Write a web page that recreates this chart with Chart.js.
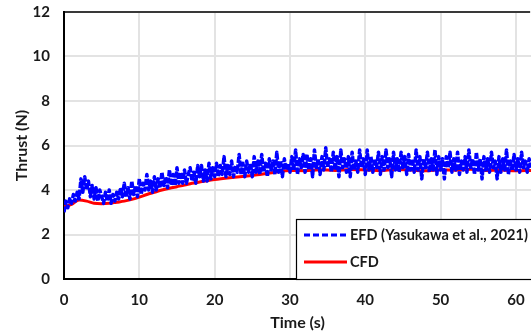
<!DOCTYPE html>
<html>
<head>
<meta charset="utf-8">
<title>Thrust</title>
<script src="https://cdn.jsdelivr.net/npm/chart.js"></script>
<style>
  body { margin: 0; background: #fff; }
  canvas { display: block; }
</style>
</head>
<body>
<canvas id="chart" width="531" height="336"></canvas>
<script>
// measured thrust, sampled every 0.25 s (one row = 2 s)
var efdTime = [
  0, 0.25, 0.5, 0.75, 1, 1.25, 1.5, 1.75,
  2, 2.25, 2.5, 2.75, 3, 3.25, 3.5, 3.75,
  4, 4.25, 4.5, 4.75, 5, 5.25, 5.5, 5.75,
  6, 6.25, 6.5, 6.75, 7, 7.25, 7.5, 7.75,
  8, 8.25, 8.5, 8.75, 9, 9.25, 9.5, 9.75,
  10, 10.25, 10.5, 10.75, 11, 11.25, 11.5, 11.75,
  12, 12.25, 12.5, 12.75, 13, 13.25, 13.5, 13.75,
  14, 14.25, 14.5, 14.75, 15, 15.25, 15.5, 15.75,
  16, 16.25, 16.5, 16.75, 17, 17.25, 17.5, 17.75,
  18, 18.25, 18.5, 18.75, 19, 19.25, 19.5, 19.75,
  20, 20.25, 20.5, 20.75, 21, 21.25, 21.5, 21.75,
  22, 22.25, 22.5, 22.75, 23, 23.25, 23.5, 23.75,
  24, 24.25, 24.5, 24.75, 25, 25.25, 25.5, 25.75,
  26, 26.25, 26.5, 26.75, 27, 27.25, 27.5, 27.75,
  28, 28.25, 28.5, 28.75, 29, 29.25, 29.5, 29.75,
  30, 30.25, 30.5, 30.75, 31, 31.25, 31.5, 31.75,
  32, 32.25, 32.5, 32.75, 33, 33.25, 33.5, 33.75,
  34, 34.25, 34.5, 34.75, 35, 35.25, 35.5, 35.75,
  36, 36.25, 36.5, 36.75, 37, 37.25, 37.5, 37.75,
  38, 38.25, 38.5, 38.75, 39, 39.25, 39.5, 39.75,
  40, 40.25, 40.5, 40.75, 41, 41.25, 41.5, 41.75,
  42, 42.25, 42.5, 42.75, 43, 43.25, 43.5, 43.75,
  44, 44.25, 44.5, 44.75, 45, 45.25, 45.5, 45.75,
  46, 46.25, 46.5, 46.75, 47, 47.25, 47.5, 47.75,
  48, 48.25, 48.5, 48.75, 49, 49.25, 49.5, 49.75,
  50, 50.25, 50.5, 50.75, 51, 51.25, 51.5, 51.75,
  52, 52.25, 52.5, 52.75, 53, 53.25, 53.5, 53.75,
  54, 54.25, 54.5, 54.75, 55, 55.25, 55.5, 55.75,
  56, 56.25, 56.5, 56.75, 57, 57.25, 57.5, 57.75,
  58, 58.25, 58.5, 58.75, 59, 59.25, 59.5, 59.75,
  60, 60.25, 60.5, 60.75, 61, 61.25, 61.5, 61.75,
  62
];
var efdThrust = [
  3.0, 3.5, 3.2, 3.6, 3.4, 3.8, 3.5, 3.9,
  3.6, 4.5, 3.9, 4.6, 4.0, 4.4, 3.7, 4.2,
  3.6, 4.1, 3.5, 4.0, 3.7, 3.4, 3.9, 3.5,
  4.0, 3.4, 3.8, 3.5, 3.9, 3.6, 4.1, 3.7,
  4.3, 3.7, 4.1, 3.6, 4.4, 3.8, 4.2, 3.7,
  4.5, 3.8, 4.3, 4.0, 4.7, 4.0, 4.4, 3.9,
  4.6, 4.0, 4.5, 4.1, 4.8, 4.2, 4.6, 4.1,
  4.9, 4.2, 4.7, 4.2, 5.0, 4.3, 4.8, 4.3,
  4.9, 4.3, 4.7, 5.0, 4.4, 4.8, 4.3, 5.1,
  4.6, 5.1, 4.4, 4.9, 4.4, 5.2, 4.5, 5.0,
  4.6, 5.2, 4.6, 5.1, 4.7, 5.5, 4.6, 5.1,
  4.7, 5.3, 4.6, 5.1, 4.8, 5.6, 4.7, 5.2,
  4.6, 5.3, 4.8, 5.2, 4.6, 5.5, 4.8, 5.3,
  4.7, 5.6, 4.8, 5.2, 4.6, 5.4, 4.9, 5.3,
  4.7, 5.7, 4.8, 5.3, 4.6, 5.4, 4.9, 5.2,
  4.8, 5.5, 4.9, 5.8, 4.7, 5.4, 5.0, 5.6,
  4.8, 5.6, 4.9, 5.4, 4.6, 5.8, 5.0, 5.4,
  4.7, 5.5, 4.9, 5.9, 5.0, 5.4, 4.8, 5.7,
  4.9, 5.5, 4.6, 5.8, 5.0, 5.4, 4.8, 5.5,
  4.6, 5.7, 4.9, 5.3, 4.8, 5.8, 5.0, 5.4,
  4.7, 5.8, 4.9, 5.5, 4.8, 5.4, 5.0, 5.7,
  4.7, 5.5, 4.9, 5.8, 5.0, 5.4, 4.6, 5.7,
  4.9, 5.4, 4.8, 5.7, 5.0, 5.5, 4.7, 5.6,
  4.9, 5.4, 4.8, 5.8, 4.9, 5.5, 4.5, 5.4,
  5.0, 5.7, 4.8, 5.4, 4.9, 5.8, 4.7, 5.5,
  4.9, 5.4, 4.5, 5.5, 5.0, 5.7, 4.8, 5.4,
  4.9, 5.7, 4.7, 5.3, 4.9, 5.5, 4.8, 5.8,
  5.0, 5.4, 4.7, 5.7, 4.9, 5.4, 4.5, 5.5,
  4.9, 5.4, 4.8, 5.7, 5.0, 5.3, 4.5, 5.5,
  4.8, 5.4, 4.9, 5.8, 4.7, 5.3, 4.9, 5.6,
  4.9, 5.4, 4.8, 5.7, 5.0, 5.3, 4.8, 5.4,
  5.0
];

// computed thrust
var cfdTime = [0, 1, 2, 3, 4, 5, 6, 7, 8, 9, 10, 11, 12, 13, 14, 15, 16, 17, 18, 19, 20,
  22, 24, 26, 28, 30, 32, 34, 36, 38, 40, 42, 44, 46, 48, 50, 52, 54, 56, 58, 60, 62];
var cfdThrust = [3.25, 3.35, 3.55, 3.5, 3.4, 3.38, 3.4, 3.45, 3.5, 3.58, 3.68, 3.8, 3.9, 4.0,
  4.08, 4.15, 4.22, 4.3, 4.36, 4.42, 4.47, 4.55, 4.62, 4.7, 4.8, 4.88, 4.87, 4.91, 4.88,
  4.92, 4.9, 4.87, 4.92, 4.9, 4.86, 4.91, 4.89, 4.93, 4.88, 4.9, 4.86, 4.88];

var seriesLabels = ['EFD (Yasukawa et al., 2021)', 'CFD'];
var xTicks = [0, 10, 20, 30, 40, 50, 60];
var yTicks = [0, 2, 4, 6, 8, 10, 12];

function pairs(xs, ys) {
  return xs.map(function (x, i) { return { x: x, y: ys[i] }; });
}

var FONT = 'Lato, "Open Sans", sans-serif';
var INK = '#1a1a1a';

// top frame line and the boxed legend in the lower right
var framePlugin = {
  id: 'frame',
  afterDraw: function (chart) {
    var ctx = chart.ctx;
    var a = chart.chartArea;
    ctx.save();
    ctx.strokeStyle = '#000';
    ctx.lineWidth = 1.5;
    ctx.beginPath();
    ctx.moveTo(a.left, a.top);
    ctx.lineTo(a.right - 1, a.top);
    ctx.stroke();

    var bx = 296, by = 219, bw = a.right - bx + 4, bh = a.bottom - by;
    ctx.fillStyle = '#fff';
    ctx.fillRect(bx, by, bw, bh);
    ctx.lineWidth = 1.2;
    ctx.strokeStyle = '#000';
    ctx.strokeRect(bx + 0.5, by + 0.5, bw, bh);

    ctx.font = 'bold 14.5px ' + FONT;
    ctx.textBaseline = 'middle';
    ctx.textAlign = 'left';
    var rows = [235, 262];
    chart.data.datasets.forEach(function (ds, i) {
      var y = rows[i];
      ctx.strokeStyle = ds.borderColor;
      ctx.lineWidth = 3;
      ctx.setLineDash(i === 0 ? [6, 3] : []);
      ctx.beginPath();
      ctx.moveTo(304, y);
      ctx.lineTo(347, y);
      ctx.stroke();
      ctx.setLineDash([]);
      ctx.fillStyle = INK;
      ctx.fillText(ds.label, 350, y);
    });
    ctx.restore();
  }
};

new Chart(document.getElementById('chart'), {
  type: 'line',
  data: {
    datasets: [{
      label: seriesLabels[0],
      data: pairs(efdTime, efdThrust),
      borderColor: '#0000ff',
      borderWidth: 3.5,
      borderDash: [6, 1.5],
      borderJoinStyle: 'round',
      pointRadius: 0,
      tension: 0
    }, {
      label: seriesLabels[1],
      data: pairs(cfdTime, cfdThrust),
      borderColor: '#ff0000',
      borderWidth: 3,
      pointRadius: 0,
      cubicInterpolationMode: 'monotone'
    }]
  },
  options: {
    responsive: false,
    animation: false,
    devicePixelRatio: 1,
    layout: { padding: { top: 12, right: 0, left: 0, bottom: 0 } },
    plugins: { legend: { display: false }, tooltip: { enabled: false } },
    scales: {
      x: {
        type: 'linear',
        min: 0,
        max: 62,
        afterBuildTicks: function (s) { s.ticks = xTicks.map(function (v) { return { value: v }; }); },
        afterFit: function (s) { s.height = 57; s.paddingLeft = 0; s.paddingRight = 0; },
        grid: { color: '#e3e3e3', lineWidth: 2, drawTicks: false },
        border: { color: '#000', width: 2 },
        ticks: { padding: 12, color: INK, font: { family: FONT, size: 15, weight: 'bold' }, maxRotation: 0 },
        title: { display: true, text: 'Time (s)', color: INK, padding: { top: 2, bottom: 4 },
                 font: { family: FONT, size: 16, weight: 'bold' } }
      },
      y: {
        min: 0,
        max: 12,
        afterBuildTicks: function (s) { s.ticks = yTicks.map(function (v) { return { value: v }; }); },
        afterFit: function (s) { s.width = 64; s.paddingTop = 0; s.paddingBottom = 0; },
        grid: { color: '#e3e3e3', lineWidth: 2, drawTicks: false },
        border: { color: '#000', width: 2 },
        ticks: { padding: 14, color: INK, font: { family: FONT, size: 15, weight: 'bold' } },
        title: { display: true, text: 'Thrust (N)', color: INK, padding: { top: 12, bottom: 0 },
                 font: { family: FONT, size: 16, weight: 'bold' } }
      }
    }
  },
  plugins: [framePlugin]
});
</script>
</body>
</html>
